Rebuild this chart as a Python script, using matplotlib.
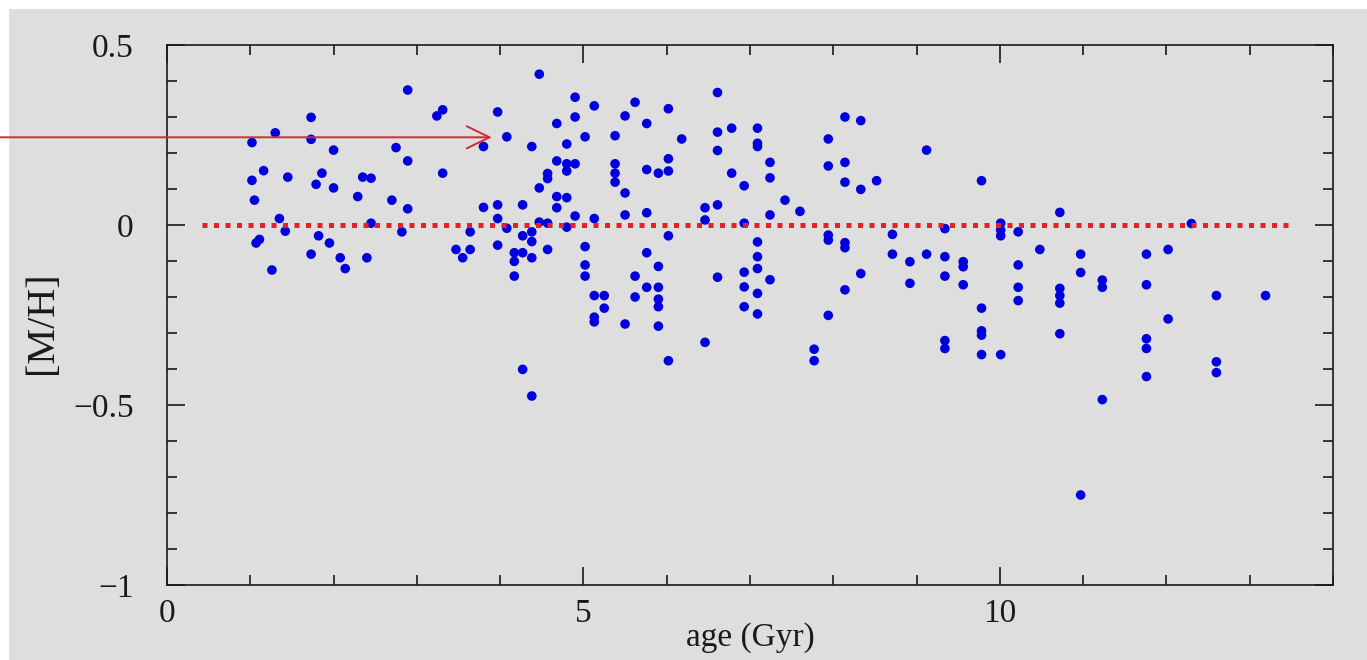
import matplotlib
matplotlib.use("Agg")
import matplotlib.pyplot as plt
from matplotlib.patches import Rectangle

plt.rcParams['font.family'] = ['Liberation Serif', 'DejaVu Serif']

# ---- data ----
age = [1.02, 1.02, 1.05, 1.07, 1.11, 1.16, 1.26, 1.30, 1.35, 1.42, 1.45,
       1.73, 1.73, 1.73, 1.79, 1.82, 1.86, 1.95, 2.00, 2.00, 2.08, 2.14,
       2.29, 2.35, 2.40, 2.45, 2.45, 2.70, 2.75, 2.82, 2.89, 2.89, 2.89,
       3.24, 3.31, 3.31, 3.47, 3.55, 3.64, 3.64, 3.80, 3.80,
       3.97, 3.97, 3.97, 3.97, 4.08, 4.08, 4.17, 4.17, 4.17,
       4.27, 4.27, 4.27, 4.27, 4.38, 4.38, 4.38, 4.38, 4.38,
       4.47, 4.47, 4.47, 4.57, 4.57, 4.57, 4.57, 4.68, 4.68, 4.68, 4.68,
       4.80, 4.80, 4.80, 4.80, 4.80, 4.90, 4.90, 4.90, 4.90,
       5.02, 5.02, 5.02, 5.02, 5.13, 5.13, 5.13, 5.13, 5.13, 5.25, 5.25,
       5.38, 5.38, 5.38, 5.38, 5.50, 5.50, 5.50, 5.50, 5.62, 5.62, 5.62,
       5.76, 5.76, 5.76, 5.76, 5.76, 5.90, 5.90, 5.90, 5.90, 5.90, 5.90,
       6.02, 6.02, 6.02, 6.02, 6.02, 6.18, 6.46, 6.46, 6.46,
       6.61, 6.61, 6.61, 6.61, 6.61, 6.78, 6.78,
       6.93, 6.93, 6.93, 6.93, 6.93,
       7.09, 7.09, 7.09, 7.09, 7.09, 7.09, 7.09, 7.09,
       7.24, 7.24, 7.24, 7.24, 7.42, 7.60, 7.77, 7.77,
       7.94, 7.94, 7.94, 7.94, 7.94, 8.14, 8.14, 8.14, 8.14, 8.14, 8.14,
       8.33, 8.33, 8.33, 8.52, 8.71, 8.71, 8.92, 8.92, 9.12, 9.12,
       9.34, 9.34, 9.34, 9.34, 9.34, 9.56, 9.56, 9.56,
       9.78, 9.78, 9.78, 9.78, 9.78, 10.01, 10.01, 10.01, 10.01,
       10.22, 10.22, 10.22, 10.22, 10.48,
       10.72, 10.72, 10.72, 10.72, 10.72, 10.97, 10.97, 10.97,
       11.23, 11.23, 11.23, 11.76, 11.76, 11.76, 11.76, 11.76,
       12.02, 12.02, 12.30, 12.60, 12.60, 12.60, 13.19]

mh = [0.229, 0.124, 0.069, -0.050, -0.040, 0.151, -0.125, 0.256, 0.018, -0.017, 0.133,
      0.299, 0.238, -0.081, 0.113, -0.030, 0.144, -0.050, 0.208, 0.103, -0.091, -0.121,
      0.079, 0.133, -0.091, 0.130, 0.005, 0.069, 0.215, -0.019, 0.375, 0.178, 0.045,
      0.303, 0.320, 0.144, -0.068, -0.091, -0.068, -0.019, 0.218, 0.049,
      0.314, 0.056, 0.018, -0.056, 0.245, -0.009, -0.077, -0.101, -0.142,
      0.056, -0.030, -0.077, -0.401, 0.218, -0.019, -0.046, -0.091, -0.475,
      0.419, 0.103, 0.008, 0.143, 0.129, 0.005, -0.068, 0.282, 0.178, 0.079, 0.048,
      0.225, 0.170, 0.150, 0.076, -0.006, 0.355, 0.300, 0.170, 0.025,
      0.245, -0.060, -0.111, -0.142, 0.331, 0.018, -0.196, -0.256, -0.269, -0.196, -0.231,
      0.248, 0.170, 0.144, 0.119, 0.303, 0.089, 0.028, -0.275, 0.341, -0.142, -0.200,
      0.282, 0.154, 0.034, -0.077, -0.173, 0.144, -0.115, -0.173, -0.206, -0.227, -0.281,
      0.323, 0.184, 0.150, -0.030, -0.377, 0.239, 0.048, 0.014, -0.326,
      0.368, 0.258, 0.207, 0.056, -0.145, 0.269, 0.144,
      0.109, 0.005, -0.131, -0.172, -0.227,
      0.269, 0.227, 0.218, -0.047, -0.088, -0.121, -0.190, -0.247,
      0.174, 0.131, 0.028, -0.152, 0.069, 0.038, -0.345, -0.377,
      0.239, 0.164, -0.028, -0.042, -0.251, 0.300, 0.174, 0.119, -0.049, -0.063, -0.180,
      0.290, 0.099, -0.135, 0.123, -0.026, -0.081, -0.102, -0.162, 0.208, -0.081,
      -0.010, -0.088, -0.142, -0.321, -0.343, -0.102, -0.116, -0.166,
      0.123, -0.231, -0.294, -0.306, -0.360, 0.005, -0.014, -0.030, -0.360,
      -0.019, -0.111, -0.173, -0.210, -0.068,
      0.035, -0.176, -0.196, -0.217, -0.302, -0.081, -0.132, -0.750,
      -0.153, -0.173, -0.485, -0.081, -0.166, -0.316, -0.343, -0.421,
      -0.068, -0.261, 0.004, -0.196, -0.380, -0.410, -0.196]

x_ticks = [0, 5, 10]
x_ticklabels = ['0', '5', '10']
y_ticks = [-1, -0.5, 0, 0.5]
y_ticklabels = ['\u22121', '\u22120.5', '0', '0.5']
ref_level = 0.0
ref_range = (0.42, 13.5)
arrow_start = (-2.01, 0.2436)
arrow_end = (3.90, 0.2436)

BG = '#dedede'
FG = '#1a1a1a'

fig = plt.figure(figsize=(13.67, 6.60), dpi=100, facecolor=BG)
# white strips at top/left edges
fig.patches.append(Rectangle((0, 1 - 9 / 660), 1, 9 / 660, transform=fig.transFigure,
                             facecolor='white', edgecolor='none', zorder=-5))
fig.patches.append(Rectangle((0, 0), 9 / 1367, 1, transform=fig.transFigure,
                             facecolor='white', edgecolor='none', zorder=-5))

ax = fig.add_axes([167 / 1367, 1 - 585 / 660, (1333 - 167) / 1367, (585 - 45) / 660])
ax.set_facecolor(BG)
ax.set_xlim(0, 14)
ax.set_ylim(-1, 0.5)

ax.scatter(age, mh, s=48, color='#0000dd', edgecolors='none', zorder=3)
ax.plot(list(ref_range), [ref_level, ref_level], color='#ee1c25', lw=3.6,
        linestyle=(0, (1, 1.3)), dash_capstyle='butt', zorder=4)

ax.annotate('', xy=arrow_end, xytext=arrow_start, annotation_clip=False,
            arrowprops=dict(arrowstyle='->,head_length=1.65,head_width=0.8',
                            mutation_scale=10, color='#d42a35', lw=1.4,
                            shrinkA=0, shrinkB=0), zorder=5)

for sp in ax.spines.values():
    sp.set_color(FG)
    sp.set_linewidth(1.2)

ax.set_xticks(x_ticks)
ax.set_xticklabels(x_ticklabels)
ax.set_yticks(y_ticks)
ax.set_yticklabels(y_ticklabels)
ax.set_xticks([i for i in range(15) if i % 5 != 0], minor=True)
ax.set_yticks([-0.9, -0.8, -0.7, -0.6, -0.4, -0.3, -0.2, -0.1, 0.1, 0.2, 0.3, 0.4],
              minor=True)
ax.tick_params(which='both', direction='in', top=True, right=True, color=FG,
               width=1.2, labelcolor=FG, labelsize=24)
ax.tick_params(which='major', length=13)
ax.tick_params(which='minor', length=7)
ax.tick_params(axis='x', which='major', pad=10)
ax.tick_params(axis='y', which='major', pad=24)

fig.text(750 / 1367, 1 - 638 / 660, 'age (Gyr)', ha='center', va='center',
         fontsize=24, color=FG)
fig.text(43 / 1367, 1 - 323 / 660, '[M/H]', ha='center', va='center',
         rotation=90, fontsize=29, color=FG)

fig.savefig('out.png', dpi=100, facecolor=BG)
